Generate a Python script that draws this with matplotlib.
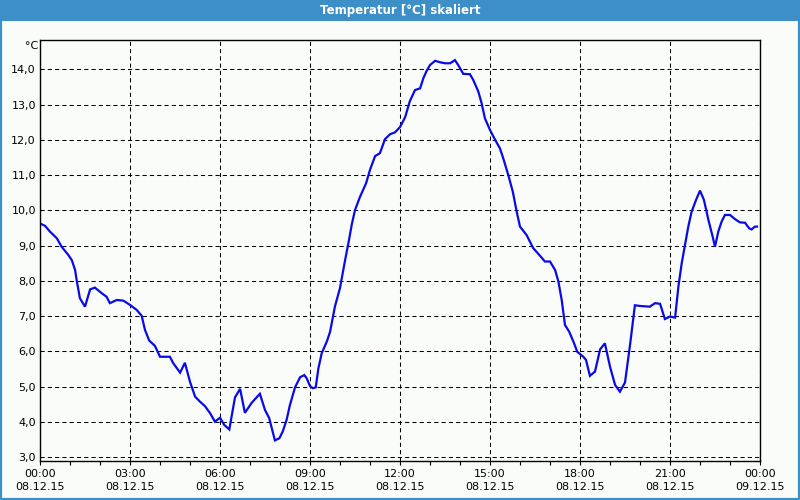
import matplotlib
matplotlib.use("Agg")
import matplotlib.pyplot as plt
from matplotlib.patches import Rectangle

title = "Temperatur [°C] skaliert"
unit_label = "°C"

hours = [0.0, 0.17, 0.33, 0.56, 0.72, 0.94, 1.06, 1.17, 1.22, 1.33, 1.50, 1.67, 1.83,
         2.06, 2.22, 2.33, 2.56, 2.78, 3.00, 3.22, 3.39, 3.50, 3.64, 3.83, 4.00, 4.33,
         4.44, 4.67, 4.83, 5.00, 5.17, 5.33, 5.50, 5.67, 5.83, 6.00, 6.14, 6.31, 6.50,
         6.67, 6.83, 7.06, 7.33, 7.50, 7.64, 7.83, 7.98, 8.09, 8.22, 8.33, 8.50, 8.67,
         8.81, 8.89, 9.00, 9.09, 9.19, 9.28, 9.39, 9.56, 9.67, 9.83, 10.00, 10.17, 10.30,
         10.39, 10.50, 10.67, 10.87, 11.00, 11.17, 11.33, 11.50, 11.67, 11.83, 12.00,
         12.17, 12.33, 12.50, 12.67, 12.78, 12.89, 13.00, 13.17, 13.33, 13.50, 13.67,
         13.83, 13.94, 14.11, 14.33, 14.44, 14.61, 14.72, 14.83, 15.00, 15.17, 15.33,
         15.44, 15.61, 15.76, 15.89, 16.00, 16.22, 16.44, 16.67, 16.83, 17.00, 17.17,
         17.28, 17.39, 17.50, 17.64, 17.78, 17.91, 18.11, 18.20, 18.33, 18.50, 18.67,
         18.83, 19.00, 19.17, 19.33, 19.50, 19.67, 19.83, 20.00, 20.33, 20.50, 20.67,
         20.83, 21.00, 21.17, 21.28, 21.39, 21.50, 21.61, 21.72, 21.87, 22.00, 22.13,
         22.28, 22.42, 22.50, 22.61, 22.72, 22.83, 23.00, 23.17, 23.33, 23.50, 23.64,
         23.72, 23.83, 23.90]
temps = [9.63, 9.56, 9.40, 9.21, 8.97, 8.74, 8.59, 8.31, 8.03, 7.51, 7.27, 7.76, 7.81,
         7.65, 7.55, 7.37, 7.46, 7.44, 7.32, 7.18, 7.01, 6.61, 6.31, 6.16, 5.85, 5.85,
         5.67, 5.40, 5.68, 5.14, 4.72, 4.58, 4.45, 4.25, 4.01, 4.12, 3.92, 3.79, 4.70,
         4.94, 4.26, 4.55, 4.80, 4.34, 4.11, 3.48, 3.54, 3.73, 4.06, 4.48, 4.98, 5.27,
         5.33, 5.24, 5.02, 4.96, 4.98, 5.52, 5.95, 6.28, 6.56, 7.27, 7.80, 8.59, 9.16,
         9.59, 10.01, 10.39, 10.77, 11.15, 11.54, 11.62, 12.02, 12.16, 12.21, 12.36,
         12.64, 13.10, 13.41, 13.46, 13.75, 13.96, 14.12, 14.24, 14.20, 14.17, 14.17,
         14.26, 14.12, 13.87, 13.86, 13.70, 13.37, 13.04, 12.61, 12.28, 12.00, 11.76,
         11.48, 11.00, 10.53, 9.96, 9.54, 9.30, 8.93, 8.71, 8.55, 8.55, 8.31,
         7.98, 7.46, 6.75, 6.56, 6.28, 5.99, 5.85, 5.76, 5.31, 5.43, 6.06,
         6.23, 5.57, 5.05, 4.86, 5.12, 6.20, 7.31, 7.29, 7.27, 7.37, 7.35,
         6.92, 6.99, 6.96, 7.84, 8.50, 9.02, 9.54, 9.96, 10.30, 10.56, 10.30,
         9.73, 9.26, 8.97, 9.40, 9.68, 9.87, 9.87, 9.75, 9.66, 9.65, 9.49,
         9.46, 9.54, 9.54]

x_tick_hours = [0, 3, 6, 9, 12, 15, 18, 21, 24]
x_tick_labels = ["00:00\n08.12.15", "03:00\n08.12.15", "06:00\n08.12.15", "09:00\n08.12.15",
                 "12:00\n08.12.15", "15:00\n08.12.15", "18:00\n08.12.15", "21:00\n08.12.15",
                 "00:00\n09.12.15"]
y_ticks = [3, 4, 5, 6, 7, 8, 9, 10, 11, 12, 13, 14]
y_tick_labels = ["3,0", "4,0", "5,0", "6,0", "7,0", "8,0", "9,0", "10,0", "11,0", "12,0", "13,0", "14,0"]

bg = "#F9FCF9"
frame_blue = "#3D8FC7"

fig = plt.figure(figsize=(8, 5), dpi=100, facecolor=bg)
ax = fig.add_axes([40/800, 39/500, 720/800, 421/500])
ax.set_facecolor(bg)

ax.plot(hours, temps, color="#0A0AE6", lw=1.6, solid_joinstyle="miter")

ax.set_xlim(0, 24)
ax.set_ylim(2.895, 14.83)
ax.set_xticks(x_tick_hours)
ax.set_xticklabels(x_tick_labels, fontsize=8, linespacing=1.3)
ax.set_xticks(list(range(25)), minor=True)
ax.set_yticks(y_ticks)
ax.set_yticklabels(y_tick_labels, fontsize=8)
ax.tick_params(axis="x", which="both", direction="out", length=3, width=0.8, pad=3, colors="black")
ax.tick_params(axis="y", length=0, pad=3)
ax.grid(True, which="major", color="black", lw=0.75, linestyle=(0, (4, 3)))
for s in ax.spines.values():
    s.set_color("black")
    s.set_linewidth(1.0)

fig.text(38/800, 1 - 46/500, unit_label, ha="right", va="center", fontsize=8)

# title bar and frame
fig.patches.append(Rectangle((0, 1 - 21/500), 1, 21/500, transform=fig.transFigure,
                             facecolor=frame_blue, edgecolor="none", zorder=0))
fig.patches.append(Rectangle((1/800, 1/500), 798/800, 497/500, transform=fig.transFigure,
                             facecolor="none", edgecolor=frame_blue, lw=1.6, zorder=1))
fig.text(0.5, 1 - 10.5/500, title, ha="center", va="center", color="white",
         fontsize=8.5, fontweight="bold")

fig.savefig("out.png", dpi=100, facecolor=bg)
